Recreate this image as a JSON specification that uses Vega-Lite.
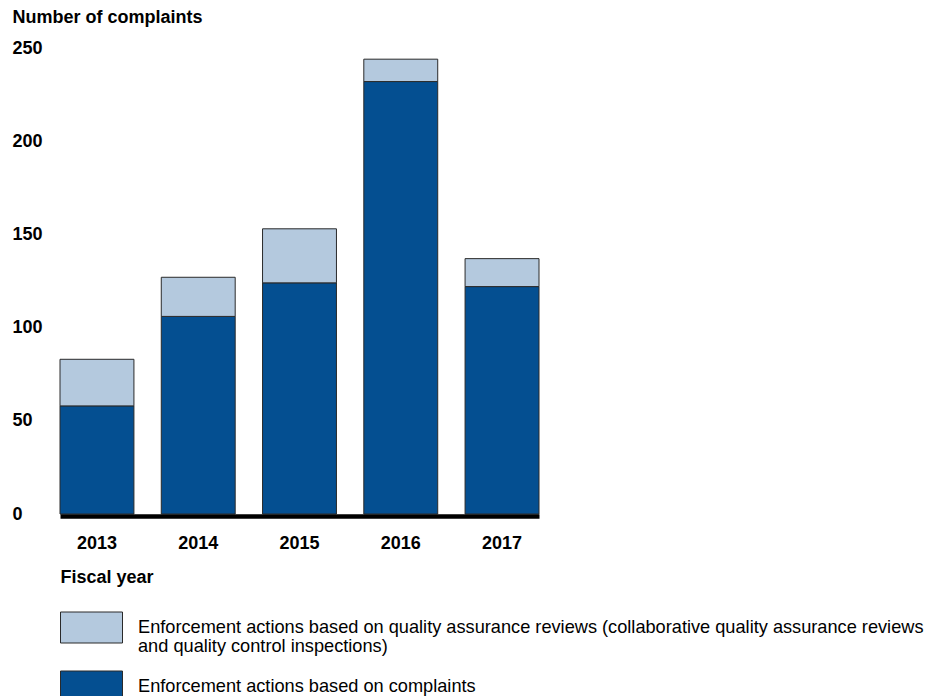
{
  "$schema": "https://vega.github.io/schema/vega-lite/v6.json",
  "autosize": "none",
  "width": 479,
  "height": 466,
  "padding": {"left": 60, "top": 48, "right": 402, "bottom": 182},
  "background": "white",
  "config": {
    "view": {"stroke": null},
    "font": "Liberation Sans",
    "axis": {"grid": false, "ticks": false, "tickSize": 0},
    "style": {"guide-label": {"lineHeight": 19}}
  },
  "data": {
    "values": [
      {"year": "2013", "type": "Enforcement actions based on complaints", "value": 58},
      {"year": "2013", "type": "Enforcement actions based on quality assurance reviews", "value": 25},
      {"year": "2014", "type": "Enforcement actions based on complaints", "value": 106},
      {"year": "2014", "type": "Enforcement actions based on quality assurance reviews", "value": 21},
      {"year": "2015", "type": "Enforcement actions based on complaints", "value": 124},
      {"year": "2015", "type": "Enforcement actions based on quality assurance reviews", "value": 29},
      {"year": "2016", "type": "Enforcement actions based on complaints", "value": 232},
      {"year": "2016", "type": "Enforcement actions based on quality assurance reviews", "value": 12},
      {"year": "2017", "type": "Enforcement actions based on complaints", "value": 122},
      {"year": "2017", "type": "Enforcement actions based on quality assurance reviews", "value": 15}
    ]
  },
  "mark": {"type": "bar", "stroke": "#2a2a2a", "strokeWidth": 1},
  "encoding": {
    "x": {
      "field": "year",
      "type": "nominal",
      "scale": {"paddingInner": 0.27, "paddingOuter": 0},
      "axis": {
        "zindex": 1,
        "offset": 2,
        "labelAngle": 0,
        "labelFont": "Liberation Sans",
        "labelFontSize": 18,
        "labelFontWeight": "bold",
        "labelColor": "black",
        "labelPadding": 18,
        "domainColor": "black",
        "domainWidth": 4.5,
        "title": "Fiscal year",
        "titleFont": "Liberation Sans",
        "titleFontSize": 18,
        "titleFontWeight": "bold",
        "titleColor": "black",
        "titleAnchor": "start",
        "titleAlign": "left",
        "titleBaseline": "middle",
        "titleX": 0,
        "titleY": 61
      }
    },
    "y": {
      "field": "value",
      "type": "quantitative",
      "stack": "zero",
      "scale": {"domain": [0, 250], "nice": false},
      "axis": {
        "values": [0, 50, 100, 150, 200, 250],
        "domain": false,
        "labelAlign": "left",
        "labelPadding": 48,
        "labelFont": "Liberation Sans",
        "labelFontSize": 18,
        "labelFontWeight": "bold",
        "labelColor": "black",
        "title": "Number of complaints",
        "titleAngle": 0,
        "titleAlign": "left",
        "titleBaseline": "middle",
        "titleX": -48,
        "titleY": -31,
        "titleFont": "Liberation Sans",
        "titleFontSize": 18,
        "titleFontWeight": "bold",
        "titleColor": "black"
      }
    },
    "order": {"field": "type", "sort": "ascending"},
    "color": {
      "field": "type",
      "type": "nominal",
      "scale": {
        "domain": ["Enforcement actions based on quality assurance reviews", "Enforcement actions based on complaints"],
        "range": ["#b4c9de", "#044f91"]
      },
      "legend": {
        "orient": "none",
        "legendX": 0,
        "legendY": 548,
        "title": null,
        "symbolType": "M-1,-0.5H1V0.5H-1Z",
        "symbolSize": 3844,
        "symbolStrokeColor": "#2a2a2a",
        "symbolStrokeWidth": 1,
        "symbolOpacity": 1,
        "labelFont": "Liberation Sans",
        "labelFontSize": 18.2,
        "labelColor": "black",
        "labelBaseline": "middle",
        "labelOffset": 15,
        "labelLimit": 900,
        "rowPadding": -8,
        "labelExpr": "indexof(datum.label, 'quality') >= 0 ? ['Enforcement actions based on quality assurance reviews (collaborative quality assurance reviews', 'and quality control inspections)'] : datum.label"
      }
    }
  }
}
